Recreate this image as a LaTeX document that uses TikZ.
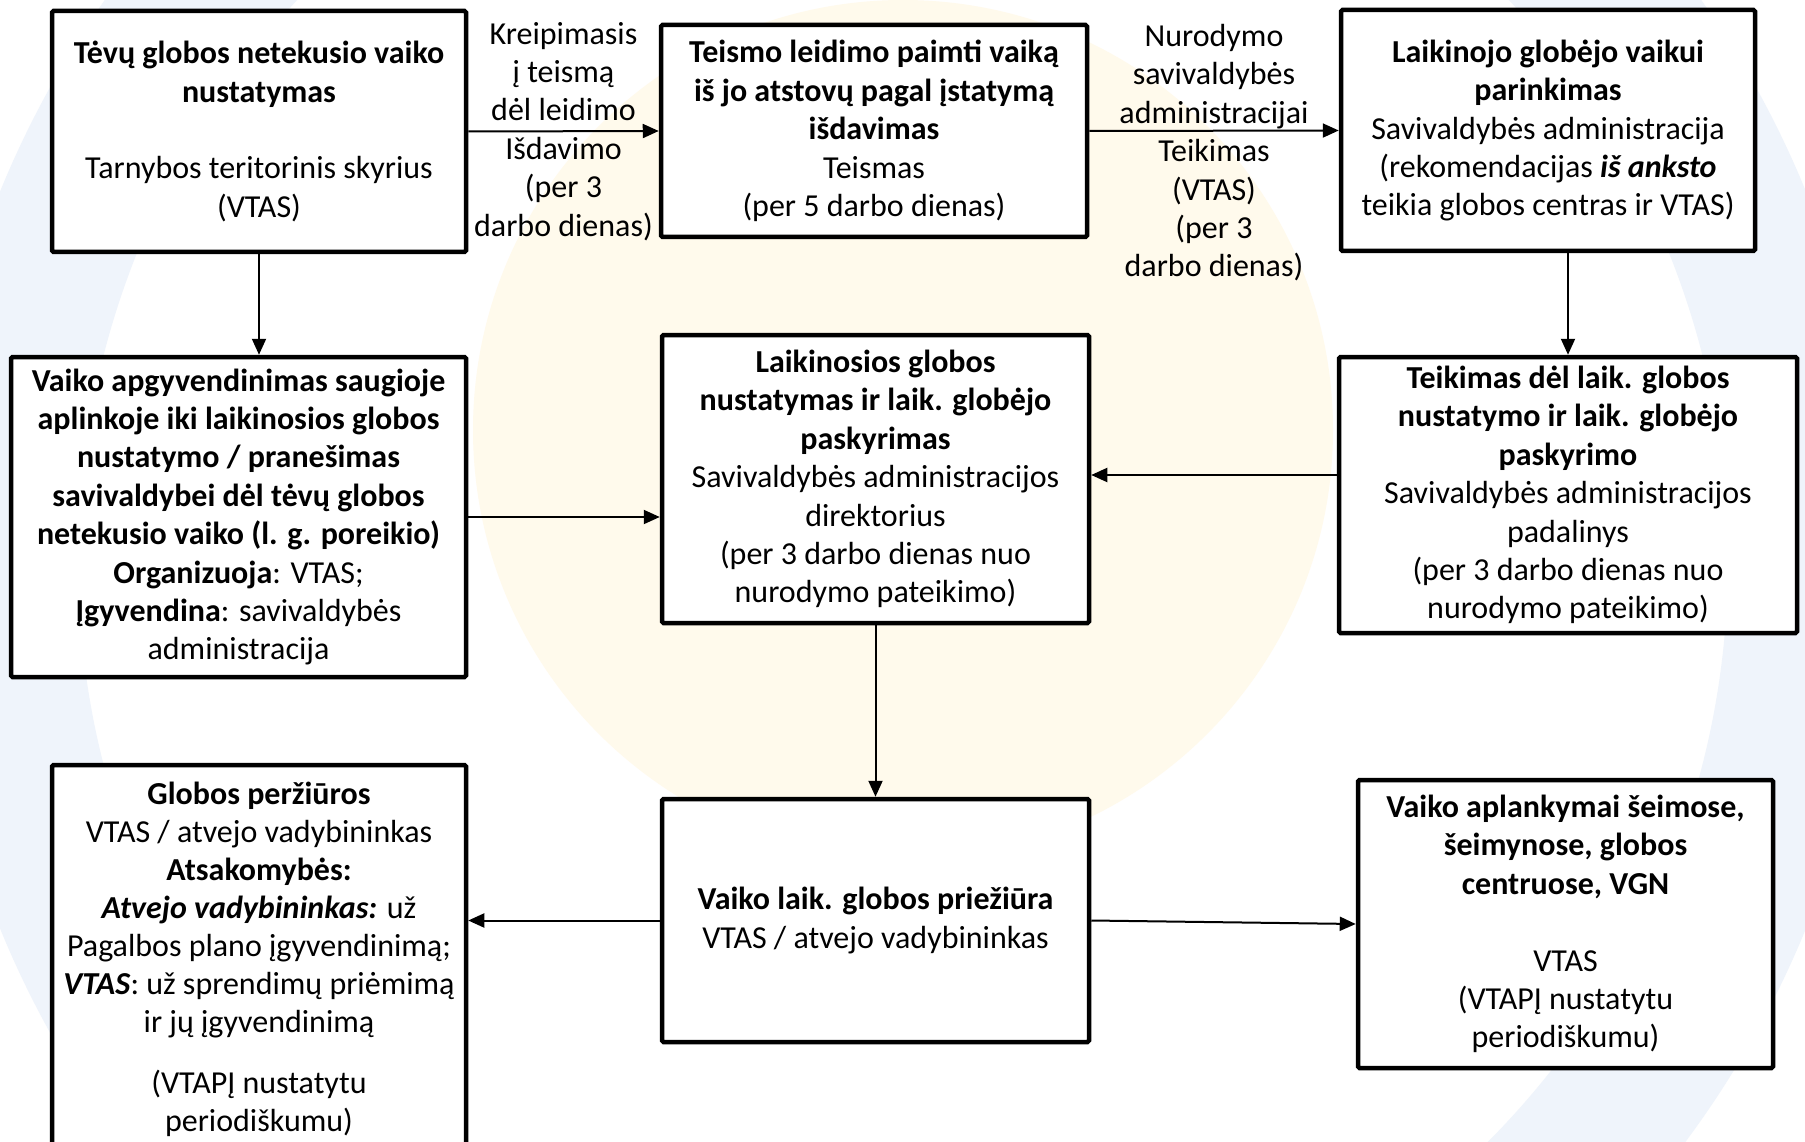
\documentclass[tikz,border=0pt]{standalone}
\usepackage{fontspec}
\setmainfont{Carlito}
\usetikzlibrary{arrows.meta}
\definecolor{wmblue}{RGB}{239,244,251}
\definecolor{wmyellow}{RGB}{255,250,236}
\begin{document}
\begin{tikzpicture}[x=1pt,y=-1pt, font=\fontsize{32}{38.4}\selectfont,
  box/.style={draw=black, line width=4.5pt, fill=white, align=center, inner sep=0pt, rounded corners=1.5pt},
  arr/.style={line width=2pt, -{Triangle[length=16pt,width=14pt]}},
  lbl/.style={align=center, inner sep=0pt}]
\useasboundingbox (0,0) rectangle (1805,1142);
\fill[white] (0,0) rectangle (1805,1142);
\begin{scope}
  \clip (0,0) rectangle (1805,1142);
  \fill[wmyellow] (903,430) circle (430pt);
  \draw[wmblue, line width=150pt] (903,560) circle (900pt);
\end{scope}

\node[box, minimum width=414pt, minimum height=241pt] (b1) at (259,131.5)
  {\textbf{Tėvų globos netekusio vaiko}\\\textbf{nustatymas}\\[38.4pt]Tarnybos teritorinis skyrius\\(VTAS)};
\node[box, minimum width=426pt, minimum height=212pt] (b2) at (874,131)
  {\textbf{Teismo leidimo paimti vaiką}\\\textbf{iš jo atstovų pagal įstatymą}\\\textbf{išdavimas}\\Teismas\\(per 5 darbo dienas)};
\node[box, minimum width=414pt, minimum height=241pt] (b3) at (1548,130.5)
  {\textbf{Laikinojo globėjo vaikui}\\\textbf{parinkimas}\\Savivaldybės administracija\\(rekomendacijas \textbf{\textit{iš anksto}}\\teikia globos centras ir VTAS)};
\node[box, minimum width=455pt, minimum height=320pt] (b4) at (238.5,517)
  {\textbf{Vaiko apgyvendinimas saugioje}\\\textbf{aplinkoje iki laikinosios globos}\\\textbf{nustatymo / pranešimas}\\\textbf{savivaldybei dėl tėvų globos}\\\textbf{netekusio vaiko (l. g. poreikio)}\\\textbf{Organizuoja}: VTAS;\\\textbf{Įgyvendina}: savivaldybės\\administracija};
\node[box, minimum width=427pt, minimum height=288pt] (b5) at (875.5,479)
  {\textbf{Laikinosios globos}\\\textbf{nustatymas ir laik. globėjo}\\\textbf{paskyrimas}\\Savivaldybės administracijos\\direktorius\\(per 3 darbo dienas nuo\\nurodymo pateikimo)};
\node[box, minimum width=458pt, minimum height=276pt] (b6) at (1568,495)
  {\textbf{Teikimas dėl laik. globos}\\\textbf{nustatymo ir laik. globėjo}\\\textbf{paskyrimo}\\Savivaldybės administracijos\\padalinys\\(per 3 darbo dienas nuo\\nurodymo pateikimo)};
\node[box, minimum width=414pt, minimum height=435pt] (b7) at (259,982.5) {};
\node[lbl, anchor=north, font=\fontsize{32}{38}\selectfont] (t7) at (259,782)
  {\textbf{Globos peržiūros}\\VTAS / atvejo vadybininkas\\\textbf{Atsakomybės:}\\\textbf{\textit{Atvejo vadybininkas:}} už\\Pagalbos plano įgyvendinimą;\\\textbf{\textit{VTAS}}: už sprendimų priėmimą\\ir jų įgyvendinimą\\[23pt](VTAPĮ nustatytu\\periodiškumu)};
\node[box, minimum width=427pt, minimum height=243pt] (b8) at (875.5,920.5)
  {\textbf{Vaiko laik. globos priežiūra}\\VTAS / atvejo vadybininkas};
\node[box, minimum width=415pt, minimum height=288pt] (b9) at (1565.5,924)
  {\textbf{Vaiko aplankymai šeimose,}\\\textbf{šeimynose, globos}\\\textbf{centruose, VGN}\\[38.4pt]VTAS\\(VTAPĮ nustatytu\\periodiškumu)};

\draw[arr] (b1.east) -- (b2.west) node[midway, lbl] (l1)
  {Kreipimasis\\į teismą\\dėl leidimo\\Išdavimo\\(per 3\\darbo dienas)};
\draw[arr] (b2.east) -- (b3.west) node[midway, lbl, yshift=-22pt] (l2)
  {Nurodymo\\savivaldybės\\administracijai\\Teikimas\\(VTAS)\\(per 3\\darbo dienas)};
\draw[arr] (b1.south) -- (b1.south |- b4.north);
\draw[arr] (b6.north |- b3.south) -- (b6.north);
\draw[arr] (b4.east) -- (b4.east -| b5.west);
\draw[arr] ([yshift=4pt]b5.east -| b6.west) -- ([yshift=4pt]b5.east);
\draw[arr] (b5.south) -- (b8.north);
\draw[arr] (b8.west) -- (b8.west -| b7.east);
\draw[arr] (b8.east) -- (b9.west);
\end{tikzpicture}
\end{document}
